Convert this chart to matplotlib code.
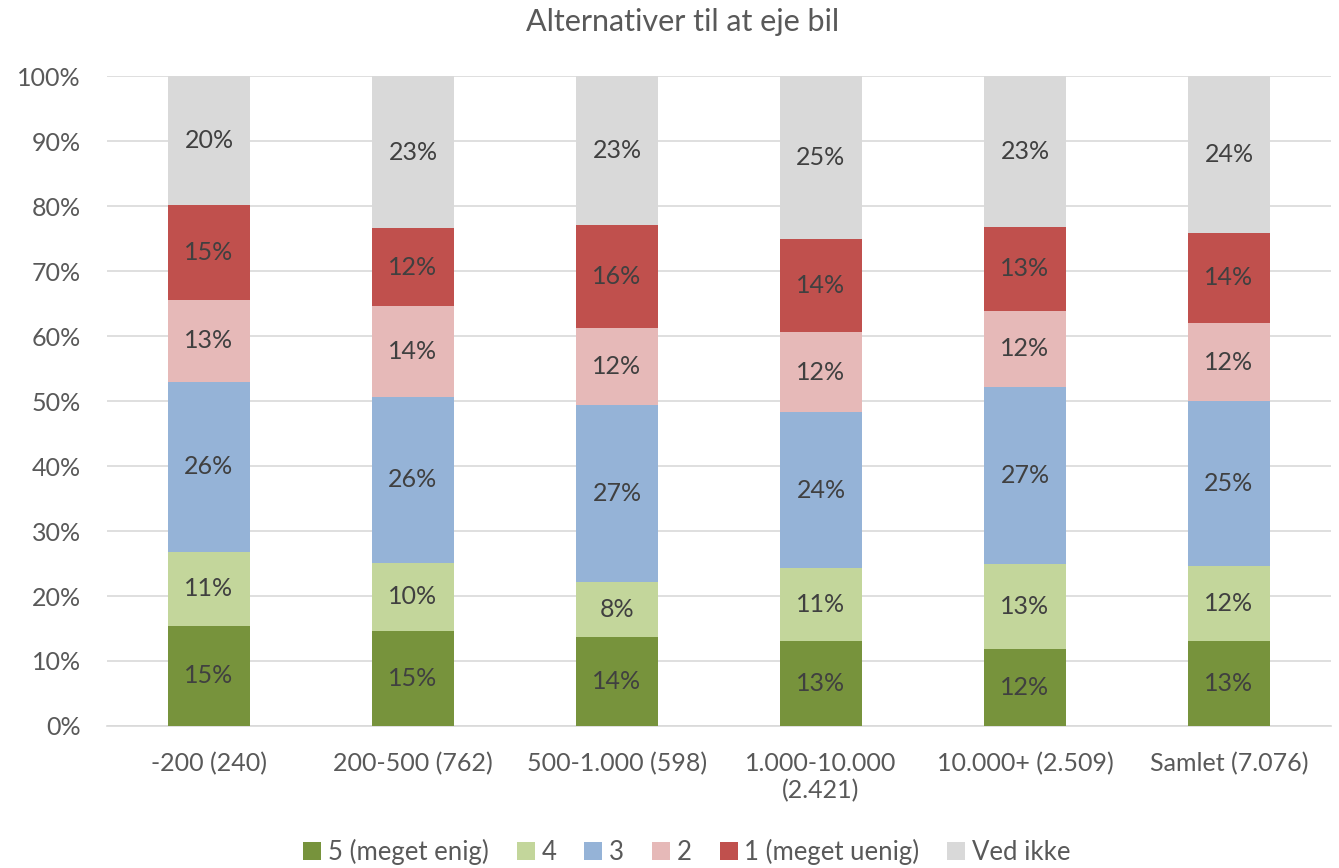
import numpy as np
import matplotlib.pyplot as plt

plt.rcParams['font.family'] = ['Lato', 'DejaVu Sans']

categories = ['-200 (240)', '200-500 (762)', '500-1.000 (598)',
              '1.000-10.000\n(2.421)', '10.000+ (2.509)', 'Samlet (7.076)']
series_names = ['5 (meget enig)', '4', '3', '2', '1 (meget uenig)', 'Ved ikke']
enig5 = [15.4, 14.6, 13.7, 13.1, 11.8, 13.1]
s4 = [11.4, 10.5, 8.5, 11.2, 13.1, 11.5]
s3 = [26.2, 25.5, 27.2, 24.0, 27.3, 25.4]
s2 = [12.6, 14.0, 11.8, 12.3, 11.7, 12.0]
uenig1 = [14.6, 12.0, 15.9, 14.4, 12.9, 13.9]
ved_ikke = [19.8, 23.4, 22.9, 25.0, 23.2, 24.1]
colors = ['#77933C', '#C3D69B', '#95B3D7', '#E6B9B8', '#C0504D', '#D9D9D9']

series = [enig5, s4, s3, s2, uenig1, ved_ikke]

fig = plt.figure(figsize=(13.39, 8.68), dpi=100)
ax = fig.add_axes([0.0799, 0.1636, 0.9141, 0.7488])

x = np.arange(len(categories))
bottom = np.zeros(len(categories))
for name, vals, col in zip(series_names, series, colors):
    vals = np.array(vals)
    ax.bar(x, vals, 0.4, bottom=bottom, color=col, label=name, zorder=3)
    for xi, b, v in zip(x, bottom, vals):
        ax.text(xi, b + v / 2, f'{round(v):.0f}%', ha='center', va='center',
                fontsize=18, color='#404040', zorder=4)
    bottom += vals

ax.set_xlim(-0.5, len(categories) - 0.5)
ax.set_ylim(0, 100)
ax.set_yticks(np.arange(0, 101, 10))
ax.set_yticklabels([f'{t}%' for t in range(0, 101, 10)])
ax.set_xticks(x)
ax.set_xticklabels(categories)
ax.tick_params(axis='both', length=0, labelsize=18, labelcolor='#595959')
ax.tick_params(axis='x', pad=19)
ax.tick_params(axis='y', pad=19)
ax.grid(axis='y', color='#D9D9D9', linewidth=1.2, zorder=0)
for s in ['top', 'right', 'left']:
    ax.spines[s].set_visible(False)
ax.spines['bottom'].set_color('#D9D9D9')
ax.spines['bottom'].set_linewidth(1.2)

fig.text(0.51, 0.975, 'Alternativer til at eje bil', ha='center', va='center',
         fontsize=22, color='#595959')

fig.legend(loc='center', bbox_to_anchor=(0.513, 0.018), ncol=6, frameon=False,
           fontsize=18.5, labelcolor='#595959', handlelength=0.7, handleheight=0.7,
           handletextpad=0.25, columnspacing=1.1)

fig.savefig('out.png', dpi=100)
